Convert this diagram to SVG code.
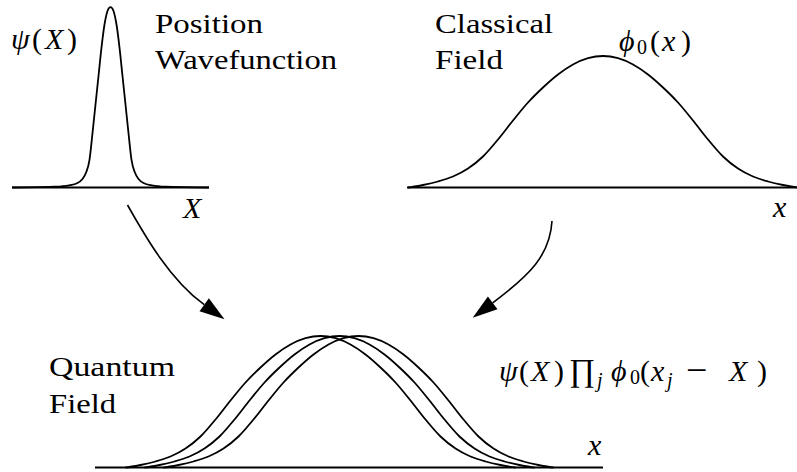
<svg xmlns="http://www.w3.org/2000/svg" xmlns:xlink="http://www.w3.org/1999/xlink" width="797" height="472" viewBox="0 0 797 472">
<style>
  .axis { stroke: #000; stroke-width: 2; fill: none; }
  .curve { stroke: #000; stroke-width: 1.8; fill: none; stroke-linejoin: round; }
  .conn { stroke: #000; stroke-width: 1.6; fill: none; }
  .t { font-family: 'Liberation Serif', 'DejaVu Serif', serif; font-size: 28px; fill: #000; }
  .m { font-family: 'Liberation Serif', 'DejaVu Serif', serif; font-size: 30px; fill: #000; }
  .it { font-style: italic; }
  .sub { font-size: 20px; }
  .big { font-size: 32px; }
  .minus { font-size: 38px; }
</style>
<defs>
  <path id="bell" d="M -195 0 C -190 -0.5, -185 -1.5, -180 -2.5 C -175 -3.5, -170 -4.58, -165 -6 C -160 -7.42, -155 -8.83, -150 -11 C -145 -13.17, -140 -15.67, -135 -19 C -130 -22.33, -125 -26.17, -120 -31 C -115 -35.83, -110 -42, -105 -48 C -100 -54, -95 -60.83, -90 -67 C -85 -73.17, -80 -79.5, -75 -85 C -70 -90.5, -65 -95.33, -60 -100 C -55 -104.67, -50 -109.17, -45 -113 C -40 -116.83, -35 -120.28, -30 -123 C -25 -125.72, -20 -127.88, -15 -129.3 C -10 -130.72, -5 -131.5, 0 -131.5 C 5 -131.5, 10 -130.72, 15 -129.3 C 20 -127.88, 25 -125.72, 30 -123 C 35 -120.28, 40 -116.83, 45 -113 C 50 -109.17, 55 -104.67, 60 -100 C 65 -95.33, 70 -90.5, 75 -85 C 80 -79.5, 85 -73.17, 90 -67 C 95 -60.83, 100 -54, 105 -48 C 110 -42, 115 -35.83, 120 -31 C 125 -26.17, 130 -22.33, 135 -19 C 140 -15.67, 145 -13.17, 150 -11 C 155 -8.83, 160 -7.42, 165 -6 C 170 -4.58, 175 -3.5, 180 -2.5 C 185 -1.5, 190 -0.5, 195 0"/>
  <path id="peak" d="M -98.5 0 C -82 0, -66.2 -0.3, -50 -1.1 C -46.67 -1.35, -43.33 -1.63, -40 -2.3 C -37.67 -2.77, -35.33 -3.29, -33 -4.5 C -31.33 -5.37, -29.67 -6.37, -28 -8.5 C -26.67 -10.21, -25.33 -12.35, -24 -16 C -23 -18.74, -22 -21.3, -21 -27.7 C -20 -34.1, -19 -45.2, -18 -54.4 C -17 -63.6, -16 -73.48, -15 -83 C -14 -92.52, -13 -102, -12 -111.5 C -11 -121, -10 -131.42, -9 -140 C -8 -148.58, -7 -156.92, -6 -163 C -5 -169.08, -4 -173.6, -3 -176.5 C -2 -179.4, -1 -180.4, 0 -180.4 C 1 -180.4, 2 -179.4, 3 -176.5 C 4 -173.6, 5 -169.08, 6 -163 C 7 -156.92, 8 -148.58, 9 -140 C 10 -131.42, 11 -121, 12 -111.5 C 13 -102, 14 -92.52, 15 -83 C 16 -73.48, 17 -63.6, 18 -54.4 C 19 -45.2, 20 -34.1, 21 -27.7 C 22 -21.3, 23 -18.74, 24 -16 C 25.33 -12.35, 26.67 -10.21, 28 -8.5 C 29.67 -6.37, 31.33 -5.37, 33 -4.5 C 35.33 -3.29, 37.67 -2.77, 40 -2.3 C 43.33 -1.63, 46.67 -1.35, 50 -1.1 C 66.2 -0.3, 82 0, 98.5 0"/>
  <marker id="arrow" markerUnits="userSpaceOnUse" orient="auto" refX="0" refY="0" markerWidth="26" markerHeight="18" viewBox="0 -9 26 18" overflow="visible">
    <path d="M 0 -8 L 25 0 L 0 8 Z" fill="#000"/>
  </marker>
</defs>

<g id="position-wavefunction">
  <line class="axis" x1="12" y1="187.5" x2="209" y2="187.5"/>
  <use xlink:href="#peak" href="#peak" class="curve" transform="translate(110.5,187.5)"/>
  <text class="m" y="48.5"><tspan class="it" x="11">ψ</tspan><tspan x="32">(</tspan><tspan class="it" x="45">X</tspan><tspan x="67">)</tspan></text>
  <text class="t" x="155" y="33" textLength="108" lengthAdjust="spacingAndGlyphs">Position</text>
  <text class="t" x="155" y="69" textLength="182" lengthAdjust="spacingAndGlyphs">Wavefunction</text>
  <text class="m it" x="183" y="218">X</text>
</g>

<g id="classical-field">
  <line class="axis" x1="407" y1="187.5" x2="797" y2="187.5"/>
  <use xlink:href="#bell" href="#bell" class="curve" transform="translate(603,187.5)"/>
  <text class="t" x="435" y="32.5" textLength="118" lengthAdjust="spacingAndGlyphs">Classical</text>
  <text class="t" x="435" y="68.5" textLength="68" lengthAdjust="spacingAndGlyphs">Field</text>
  <text class="m" y="50.5"><tspan class="it" x="619">ϕ</tspan><tspan class="sub" x="637" dy="3">0</tspan><tspan x="650" dy="-3">(</tspan><tspan class="it" x="662">x</tspan><tspan x="681">)</tspan></text>
  <text class="m it" x="773" y="216.5">x</text>
</g>

<g id="quantum-field">
  <line class="axis" x1="95" y1="467.5" x2="603" y2="467.5"/>
  <use xlink:href="#bell" href="#bell" class="curve" transform="translate(320.5,467.5)"/>
  <use xlink:href="#bell" href="#bell" class="curve" transform="translate(339.5,467.5)"/>
  <use xlink:href="#bell" href="#bell" class="curve" transform="translate(358.5,467.5)"/>
  <text class="t" x="49" y="376" textLength="126" lengthAdjust="spacingAndGlyphs">Quantum</text>
  <text class="t" x="49" y="412.5" textLength="67" lengthAdjust="spacingAndGlyphs">Field</text>
  <text class="m it" x="588" y="455">x</text>
  <text class="m" y="381"><tspan class="it" x="499">ψ</tspan><tspan x="519">(</tspan><tspan class="it" x="531">X</tspan><tspan x="554">)</tspan><tspan class="big" x="569">∏</tspan><tspan class="it sub" x="597" dy="6">j</tspan><tspan class="it" x="611" dy="-6">ϕ</tspan><tspan class="sub" x="630" dy="3">0</tspan><tspan x="640" dy="-3">(</tspan><tspan class="it" x="651">x</tspan><tspan class="it sub" x="667" dy="6">j</tspan><tspan class="minus" x="686" dy="-4">−</tspan><tspan class="it" x="729" dy="-2">X</tspan><tspan x="757">)</tspan></text>
</g>

<g id="connectors">
  <path class="conn" d="M 127.5 205 C 145 236, 170 280, 204.2 304.7" marker-end="url(#arrow)"/>
  <path class="conn" d="M 552 221 C 550 255, 530 275, 492.7 302.8" marker-end="url(#arrow)"/>
</g>
</svg>
